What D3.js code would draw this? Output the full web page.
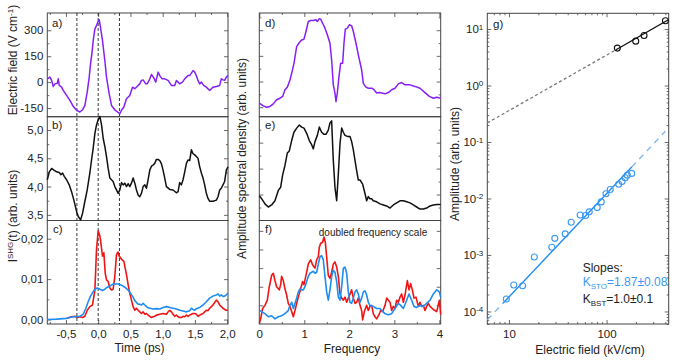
<!DOCTYPE html>
<html>
<head>
<meta charset="utf-8">
<script src="https://cdn.jsdelivr.net/npm/d3@7"></script>
<style>
  body { margin: 0; background: #fff; }
  svg text { font-family: "Liberation Sans", Arial, sans-serif; fill: #222; }
</style>
</head>
<body>
<svg id="chart" width="675" height="363"></svg>
<script>
// ---- data: time domain (ps) ----
const fieldTrace = [[-0.789,19],[-0.748,29],[-0.722,10],[-0.696,-25],[-0.671,-10],[-0.634,-6],[-0.619,19],[-0.604,-19],[-0.567,-29],[-0.542,-48],[-0.490,-77],[-0.438,-106],[-0.387,-140],[-0.335,-163],[-0.284,-173],[-0.242,-160],[-0.206,-135],[-0.170,-58],[-0.139,29],[-0.119,106],[-0.098,163],[-0.077,240],[-0.051,308],[-0.026,327],[0.000,352],[0.016,362],[0.036,317],[0.067,240],[0.103,125],[0.129,29],[0.170,-67],[0.207,-135],[0.258,-160],[0.336,-183],[0.361,-163],[0.398,-144],[0.439,-96],[0.490,-77],[0.532,-29],[0.568,-38],[0.619,-19],[0.645,-10],[0.671,10],[0.697,13],[0.738,-10],[0.759,-10],[0.790,10],[0.826,44],[0.862,25],[0.893,0],[0.929,58],[0.955,38],[0.991,19],[1.032,19],[1.084,10],[1.135,-19],[1.187,-19],[1.213,10],[1.239,0],[1.264,-10],[1.306,0],[1.342,19],[1.368,29],[1.393,38],[1.419,38],[1.445,52],[1.471,67],[1.497,58],[1.522,38],[1.548,10],[1.574,-10],[1.600,0],[1.636,-19],[1.677,-29],[1.729,-48],[1.755,-38],[1.780,-29],[1.832,-25],[1.884,-19],[1.909,19],[1.935,13],[1.961,10],[1.987,29],[2.013,38]];

const refTrace = [[-0.789,4.12],[-0.758,4.26],[-0.722,4.32],[-0.686,4.29],[-0.645,4.26],[-0.604,4.25],[-0.578,4.21],[-0.552,4.24],[-0.526,4.18],[-0.490,4.12],[-0.449,4.03],[-0.413,3.91],[-0.377,3.76],[-0.335,3.56],[-0.309,3.47],[-0.273,3.41],[-0.242,3.53],[-0.206,3.74],[-0.170,3.94],[-0.129,4.24],[-0.103,4.47],[-0.077,4.68],[-0.051,4.94],[-0.026,5.09],[0.000,5.18],[0.026,5.24],[0.052,5.09],[0.078,4.85],[0.103,4.71],[0.129,4.53],[0.155,4.32],[0.181,4.15],[0.207,4.12],[0.232,4.09],[0.258,4.0],[0.284,3.94],[0.310,3.88],[0.336,3.94],[0.361,4.07],[0.387,4.03],[0.413,4.06],[0.439,4.0],[0.465,4.05],[0.490,4.0],[0.516,4.06],[0.542,4.15],[0.568,4.06],[0.594,3.94],[0.619,3.85],[0.645,3.82],[0.671,3.88],[0.697,4.0],[0.723,4.03],[0.748,3.97],[0.774,4.12],[0.800,4.29],[0.826,4.36],[0.852,4.38],[0.877,4.41],[0.903,4.48],[0.929,4.48],[0.955,4.46],[0.981,4.40],[1.006,4.29],[1.032,4.15],[1.058,4.0],[1.110,3.95],[1.161,3.94],[1.213,3.89],[1.239,3.91],[1.264,4.07],[1.290,4.03],[1.316,4.12],[1.342,4.26],[1.368,4.41],[1.393,4.47],[1.419,4.46],[1.445,4.65],[1.471,4.58],[1.497,4.56],[1.522,4.53],[1.548,4.50],[1.574,4.35],[1.600,4.24],[1.626,4.15],[1.651,4.03],[1.677,3.88],[1.703,3.79],[1.729,3.74],[1.780,3.74],[1.832,3.76],[1.858,3.82],[1.884,3.94],[1.909,3.97],[1.935,4.03],[1.961,4.09],[1.987,4.29],[2.013,4.35]];

const shgRed = [[-0.490,0.0003],[-0.413,0.0007],[-0.361,0.0008],[-0.325,0.0005],[-0.284,0.0007],[-0.242,0.0005],[-0.206,0.0008],[-0.170,0.0023],[-0.129,0.0032],[-0.088,0.0036],[-0.051,0.0073],[-0.026,0.0173],[0.000,0.0219],[0.026,0.0207],[0.041,0.019],[0.067,0.0157],[0.088,0.0165],[0.109,0.0115],[0.129,0.0098],[0.155,0.0094],[0.181,0.0078],[0.207,0.0073],[0.232,0.0075],[0.258,0.0107],[0.284,0.0161],[0.310,0.0167],[0.325,0.0157],[0.346,0.0153],[0.367,0.0148],[0.398,0.0144],[0.418,0.0128],[0.439,0.0111],[0.465,0.0086],[0.490,0.0065],[0.516,0.0048],[0.542,0.0032],[0.568,0.0023],[0.594,0.0028],[0.619,0.0023],[0.645,0.0019],[0.671,0.0015],[0.697,0.0019],[0.723,0.0013],[0.748,0.0015],[0.774,0.0011],[0.800,0.0008],[0.826,0.0005],[0.852,0.0007],[0.877,0.0008],[0.903,0.0011],[0.955,0.0013],[1.006,0.0015],[1.058,0.0013],[1.084,0.0019],[1.110,0.0023],[1.135,0.0019],[1.161,0.0013],[1.187,0.0008],[1.213,0.0011],[1.239,0.0007],[1.264,0.0005],[1.290,0.0005],[1.316,0.0008],[1.342,0.0007],[1.368,0.0011],[1.393,0.0008],[1.419,0.0011],[1.445,0.0013],[1.471,0.0015],[1.497,0.0015],[1.522,0.0013],[1.548,0.0008],[1.574,0.0011],[1.600,0.0013],[1.626,0.0015],[1.651,0.0019],[1.677,0.0023],[1.703,0.0022],[1.729,0.0028],[1.755,0.0032],[1.780,0.0036],[1.806,0.0042],[1.832,0.0048],[1.858,0.0044],[1.884,0.0036],[1.909,0.0032],[1.935,0.0028],[1.961,0.0025],[1.987,0.0023],[2.013,0.0023]];

const shgBlue = [[-0.789,0.0],[-0.645,0.0001],[-0.490,0.0003],[-0.438,0.0005],[-0.387,0.0007],[-0.335,0.0007],[-0.284,0.0008],[-0.232,0.0013],[-0.191,0.0028],[-0.155,0.0044],[-0.119,0.0058],[-0.077,0.0069],[-0.051,0.0075],[-0.015,0.0078],[0.026,0.0075],[0.067,0.0072],[0.103,0.0075],[0.140,0.008],[0.181,0.0083],[0.222,0.0087],[0.258,0.0088],[0.310,0.0088],[0.361,0.0085],[0.413,0.008],[0.465,0.0073],[0.501,0.0065],[0.542,0.0055],[0.568,0.0047],[0.594,0.0042],[0.619,0.0038],[0.645,0.0038],[0.671,0.0036],[0.697,0.004],[0.723,0.0036],[0.748,0.0032],[0.774,0.0029],[0.800,0.0028],[0.852,0.0026],[0.903,0.0027],[0.955,0.0026],[1.006,0.003],[1.058,0.0032],[1.110,0.003],[1.161,0.0028],[1.213,0.0026],[1.264,0.0023],[1.316,0.0021],[1.368,0.0019],[1.419,0.0022],[1.445,0.0028],[1.471,0.0025],[1.497,0.0023],[1.522,0.0027],[1.574,0.003],[1.626,0.0036],[1.677,0.0044],[1.729,0.0053],[1.780,0.0058],[1.832,0.0061],[1.858,0.0063],[1.884,0.0058],[1.909,0.0061],[1.935,0.0057],[1.961,0.0058],[1.987,0.0061],[2.013,0.0065]];

const markerTimes = [-0.33, 0, 0.33];

// ---- data: spectra (frequency, arb. units) ----
const fieldSpectrum = [[0,0.16],[0.089,0.05],[0.163,0.0],[0.237,0.03],[0.311,0.13],[0.385,0.29],[0.459,0.35],[0.519,0.42],[0.570,0.68],[0.622,0.78],[0.681,1.06],[0.719,1.32],[0.770,1.71],[0.830,2.36],[0.889,2.52],[0.941,2.62],[0.993,2.65],[1.037,2.95],[1.089,3.34],[1.141,3.38],[1.2,3.38],[1.259,3.41],[1.289,3.34],[1.333,3.45],[1.363,3.43],[1.407,3.27],[1.459,3.08],[1.511,2.82],[1.570,2.49],[1.607,1.84],[1.644,0.87],[1.681,0.55],[1.704,0.22],[1.733,0.55],[1.770,1.19],[1.807,1.71],[1.852,1.71],[1.881,2.49],[1.911,3.04],[1.956,3.08],[2.0,3.21],[2.052,3.17],[2.089,2.95],[2.148,2.49],[2.2,2.04],[2.274,1.45],[2.311,0.93],[2.370,0.78],[2.422,0.74],[2.496,0.74],[2.548,0.68],[2.607,0.55],[2.667,0.57],[2.719,0.55],[2.793,0.52],[2.867,0.57],[2.941,0.68],[3.015,0.74],[3.089,0.91],[3.163,0.96],[3.237,0.87],[3.348,0.87],[3.459,0.81],[3.570,0.74],[3.681,0.57],[3.778,0.42],[3.867,0.35],[3.941,0.39],[4.03,0.35]];

const refSpectrum = [[0,0.24],[0.052,0.21],[0.126,0.16],[0.2,0.13],[0.274,0.15],[0.348,0.19],[0.422,0.29],[0.474,0.32],[0.519,0.44],[0.570,0.53],[0.622,0.65],[0.667,0.67],[0.719,0.77],[0.770,0.85],[0.830,0.89],[0.889,0.92],[0.941,0.90],[0.993,0.89],[1.052,0.84],[1.111,0.77],[1.163,0.73],[1.2,0.69],[1.237,0.76],[1.289,0.82],[1.333,0.90],[1.385,0.85],[1.437,0.83],[1.481,0.83],[1.533,0.87],[1.570,0.94],[1.607,0.96],[1.644,0.58],[1.681,0.32],[1.719,0.19],[1.756,0.45],[1.793,0.74],[1.830,0.89],[1.867,0.85],[1.904,0.82],[1.956,0.81],[2.015,0.81],[2.052,0.76],[2.089,0.68],[2.126,0.58],[2.163,0.48],[2.2,0.39],[2.237,0.39],[2.296,0.35],[2.348,0.26],[2.385,0.19],[2.422,0.23],[2.459,0.21],[2.496,0.21],[2.533,0.19],[2.607,0.18],[2.681,0.16],[2.756,0.15],[2.830,0.14],[2.904,0.12],[2.978,0.15],[3.052,0.17],[3.126,0.19],[3.2,0.19],[3.274,0.18],[3.348,0.17],[3.422,0.15],[3.496,0.13],[3.570,0.11],[3.644,0.11],[3.719,0.12],[3.793,0.14],[3.867,0.15],[3.941,0.155],[4.03,0.155]];

const shgSpecRed = [[0,0.01],[0.030,0.05],[0.074,0.15],[0.126,0.18],[0.178,0.23],[0.222,0.36],[0.274,0.47],[0.311,0.49],[0.348,0.42],[0.385,0.36],[0.444,0.33],[0.474,0.38],[0.496,0.46],[0.533,0.42],[0.570,0.34],[0.607,0.28],[0.644,0.20],[0.681,0.17],[0.719,0.12],[0.756,0.07],[0.793,0.13],[0.830,0.20],[0.867,0.26],[0.919,0.34],[0.963,0.41],[0.993,0.38],[1.037,0.47],[1.089,0.58],[1.141,0.62],[1.185,0.57],[1.237,0.54],[1.274,0.62],[1.311,0.65],[1.333,0.74],[1.363,0.78],[1.407,0.79],[1.437,0.84],[1.467,0.79],[1.496,0.65],[1.533,0.47],[1.570,0.44],[1.607,0.50],[1.644,0.58],[1.681,0.60],[1.719,0.55],[1.756,0.46],[1.793,0.29],[1.830,0.25],[1.867,0.23],[1.904,0.26],[1.941,0.21],[1.978,0.25],[2.015,0.29],[2.052,0.33],[2.089,0.25],[2.126,0.20],[2.163,0.21],[2.2,0.25],[2.237,0.18],[2.274,0.13],[2.296,0.04],[2.333,0.12],[2.385,0.18],[2.422,0.13],[2.459,0.17],[2.496,0.18],[2.533,0.10],[2.570,0.07],[2.607,0.05],[2.659,0.09],[2.696,0.13],[2.741,0.12],[2.793,0.18],[2.830,0.25],[2.867,0.23],[2.904,0.21],[2.941,0.13],[2.978,0.17],[3.015,0.15],[3.052,0.23],[3.089,0.21],[3.126,0.26],[3.163,0.29],[3.2,0.21],[3.237,0.28],[3.289,0.42],[3.326,0.33],[3.363,0.39],[3.4,0.33],[3.437,0.25],[3.481,0.26],[3.533,0.17],[3.570,0.21],[3.607,0.17],[3.644,0.18],[3.681,0.13],[3.719,0.17],[3.756,0.20],[3.793,0.17],[3.867,0.14],[3.941,0.12],[4.0,0.23],[4.03,0.09]];

const shgSpecBlue = [[0,0.13],[0.052,0.12],[0.126,0.10],[0.2,0.07],[0.274,0.08],[0.348,0.05],[0.422,0.07],[0.496,0.08],[0.570,0.10],[0.644,0.13],[0.681,0.18],[0.719,0.21],[0.756,0.15],[0.793,0.20],[0.830,0.25],[0.867,0.31],[0.904,0.34],[0.941,0.33],[0.978,0.33],[1.015,0.36],[1.052,0.41],[1.089,0.46],[1.126,0.49],[1.163,0.50],[1.2,0.51],[1.237,0.49],[1.274,0.50],[1.311,0.58],[1.348,0.65],[1.385,0.66],[1.422,0.62],[1.459,0.46],[1.496,0.31],[1.533,0.23],[1.570,0.33],[1.607,0.46],[1.644,0.52],[1.681,0.50],[1.719,0.41],[1.756,0.26],[1.793,0.23],[1.830,0.36],[1.867,0.54],[1.904,0.55],[1.941,0.49],[1.978,0.31],[2.015,0.21],[2.052,0.20],[2.089,0.25],[2.126,0.31],[2.163,0.33],[2.2,0.29],[2.237,0.21],[2.274,0.25],[2.311,0.31],[2.348,0.32],[2.385,0.28],[2.422,0.21],[2.459,0.18],[2.496,0.17],[2.533,0.17],[2.607,0.15],[2.681,0.15],[2.719,0.13],[2.793,0.10],[2.867,0.09],[2.941,0.10],[3.015,0.15],[3.089,0.20],[3.141,0.18],[3.2,0.15],[3.274,0.23],[3.326,0.29],[3.385,0.23],[3.437,0.17],[3.496,0.16],[3.570,0.18],[3.644,0.17],[3.719,0.20],[3.793,0.23],[3.867,0.29],[3.941,0.33],[4.0,0.31],[4.03,0.26]];

// ---- data: amplitude vs field ----
const bstField = [129, 199, 242, 401];
const bstAmp = [4.6, 6.1, 7.7, 14];
const stoField = [9.4, 11.2, 13.8, 18.2, 27.5, 29.5, 37.7, 43.4, 53.7, 61, 66.4, 80.2, 88.2, 98.6, 109, 133, 144, 155, 163, 181];
const stoAmp = [1.66e-4, 2.94e-4, 2.86e-4, 9.2e-4, 1.37e-3, 1.97e-3, 2.36e-3, 3.8e-3, 5.1e-3, 5.0e-3, 5.8e-3, 6.9e-3, 8.7e-3, 1.21e-2, 1.44e-2, 1.79e-2, 2.0e-2, 2.33e-2, 2.59e-2, 2.78e-2];
const bstFit = [[125, 4.3], [430, 14.6]];
const bstFitExt = [[6, 0.218], [125, 4.3]];
const stoFit = [[8.7, 1.4e-4], [181, 0.036]];
const stoFitExt = [[[6, 7.1e-5], [8.7, 1.4e-4]], [[181, 0.036], [400, 0.155]]];

// ---- ticks ----
const timeTicks = [-0.5, 0, 0.5, 1, 1.5, 2], timeMinor = [-0.75, -0.25, 0.25, 0.75, 1.25, 1.75];
const freqTicks = [0, 1, 2, 3, 4], freqMinor = [0.5, 1.5, 2.5, 3.5];
const fieldTicks = [-150, 0, 150, 300], fieldMinor = [-75, 75, 225];
const refTicks = [3.5, 4.0, 4.5, 5.0], refMinor = [3.75, 4.25, 4.75];
const shgTicks = [0, 0.01, 0.02], shgMinor = [0.005, 0.015];
const dTicks = [0, 1, 2, 3], dMinor = [0.5, 1.5, 2.5, 3.5];
const eTicks = [0.25, 0.5, 0.75], eMinor = [0.125, 0.375, 0.625, 0.875];
const fTicks = [0.18, 0.36, 0.54, 0.72, 0.9];
const logXTicks = [10, 100];
const logYTicks = [1e-4, 1e-3, 1e-2, 1e-1, 1, 10];

// ---- layout ----
const svg = d3.select("#chart");
const FONT = "'Liberation Sans', Arial, sans-serif";
const FRAME = "#444";
const colL = [47.3, 228], colM = [259.3, 440.7], colR = [487.3, 668.7];
const rowY = [13, 116.7, 220.5, 324];

const locale = d3.formatLocale({decimal: ",", thousands: ".", grouping: [3], currency: ["", ""], minus: "-"});
const fmtInt = locale.format("d"), fmt1 = locale.format(".1f"), fmt2 = locale.format(".2f");

// scales
const xTime = d3.scaleLinear([-0.789, 2.013], colL);
const yField = d3.scaleLinear([-200, 400], [rowY[1], rowY[0]]);
const yRef = d3.scaleLinear([3.4, 5.235], [rowY[2], rowY[1]]);
const yShg = d3.scaleLinear([-0.0011, 0.0245], [rowY[3], rowY[2]]);
const xFreq = d3.scaleLinear([0, 4.03], colM);
const yD = d3.scaleLinear([-0.37, 3.67], [rowY[1], rowY[0]]);
const yE = d3.scaleLinear([0, 1], [rowY[2], rowY[1]]);
const yF = d3.scaleLinear([0, 1], [rowY[3], rowY[2]]);
const xLog = d3.scaleLog([6, 433], colR);
const yLog = d3.scaleLog([6e-5, 19], [324, 13.3]);

// draws inward ticks with d3 axes (labels only when fmt is given)
function addAxis(kind, scale, at, major, minor, fmt, pad) {
  const make = {left: d3.axisLeft, right: d3.axisRight, top: d3.axisTop, bottom: d3.axisBottom}[kind];
  const vertical = kind === "left" || kind === "right";
  const g = svg.append("g").attr("transform", vertical ? `translate(${at},0)` : `translate(0,${at})`);
  g.call(make(scale).tickValues(major).tickSizeInner(-4).tickSizeOuter(0)
    .tickPadding(pad || 4).tickFormat(fmt || (() => "")));
  if (minor) {
    g.append("g").call(make(scale).tickValues(minor).tickSizeInner(-2).tickSizeOuter(0).tickFormat(() => ""));
  }
  g.selectAll(".domain").remove();
  g.selectAll("line").attr("stroke", FRAME).attr("stroke-width", 0.8);
  g.attr("font-family", FONT).attr("font-size", 11.5);
  g.selectAll("text").attr("fill", "#222");
  return g;
}

function frame(x0, x1, y0, y1) {
  svg.append("rect").attr("x", x0).attr("y", y0).attr("width", x1 - x0).attr("height", y1 - y0)
    .attr("fill", "none").attr("stroke", FRAME).attr("stroke-width", 1);
}

function trace(data, xs, ys, color, width) {
  svg.append("path").datum(data)
    .attr("d", d3.line().x(d => xs(d[0])).y(d => ys(d[1])))
    .attr("fill", "none").attr("stroke", color).attr("stroke-width", width || 1.5)
    .attr("stroke-linejoin", "round");
}

function label(x, y, txt, size, anchor) {
  return svg.append("text").attr("x", x).attr("y", y).attr("font-size", size || 11.5)
    .attr("text-anchor", anchor || "start").text(txt);
}

// ---- left column: time traces ----
addAxis("left", yField, colL[0], fieldTicks, fieldMinor, fmtInt);
addAxis("right", yField, colL[1], fieldTicks, fieldMinor);
addAxis("top", xTime, rowY[0], timeTicks, timeMinor);
addAxis("left", yRef, colL[0], refTicks, refMinor, fmt1);
addAxis("right", yRef, colL[1], refTicks, refMinor);
addAxis("left", yShg, colL[0], shgTicks, shgMinor, fmt2);
addAxis("right", yShg, colL[1], shgTicks, shgMinor);
addAxis("bottom", xTime, rowY[3], timeTicks, timeMinor, fmt1, 6);

// middle column
addAxis("left", yD, colM[0], dTicks, dMinor);
addAxis("right", yD, colM[1], dTicks, dMinor);
addAxis("top", xFreq, rowY[0], freqTicks, freqMinor);
addAxis("left", yE, colM[0], eTicks, eMinor);
addAxis("right", yE, colM[1], eTicks, eMinor);
addAxis("left", yF, colM[0], fTicks);
addAxis("right", yF, colM[1], fTicks);
addAxis("bottom", xFreq, rowY[3], freqTicks, freqMinor, d => d3.format("d")(d), 6);

// right panel, log-log
const logMinorX = [7, 8, 9, 20, 30, 40, 50, 60, 70, 80, 90, 200, 300, 400];
const logMinorY = [];
[1e-5, 1e-4, 1e-3, 1e-2, 1e-1, 1].forEach(dec => {
  [2, 3, 4, 5, 6, 7, 8, 9].forEach(m => {
    const v = dec * m;
    if (v > 6e-5 && v < 19) logMinorY.push(v);
  });
});
const powLabel = d => "10|" + Math.round(Math.log10(d));
const gyLeft = addAxis("left", yLog, colR[0], logYTicks, logMinorY, powLabel);
addAxis("right", yLog, colR[1], logYTicks, logMinorY);
addAxis("top", xLog, 13.3, logXTicks, logMinorX);
addAxis("bottom", xLog, 324, logXTicks, logMinorX, d => d3.format("d")(d), 6);
// turn "10|n" into 10 with superscript
gyLeft.selectAll(".tick text").each(function() {
  const t = d3.select(this);
  const parts = t.text().split("|");
  t.text("");
  t.append("tspan").text(parts[0]);
  t.append("tspan").attr("dy", "-0.45em").attr("font-size", 8).text(parts[1]);
});

// frames
[0, 1, 2].forEach(i => {
  frame(colL[0], colL[1], rowY[i], rowY[i + 1]);
  frame(colM[0], colM[1], rowY[i], rowY[i + 1]);
});
frame(colR[0], colR[1], 13.3, 324);

// dashed markers across the time panels
svg.append("g").selectAll("line").data(markerTimes).join("line")
  .attr("x1", d => xTime(d)).attr("x2", d => xTime(d))
  .attr("y1", rowY[0]).attr("y2", rowY[3])
  .attr("stroke", "#222").attr("stroke-width", 0.9).attr("stroke-dasharray", "3,2");

// curves
const PURPLE = "#8420f5", RED = "#f01414", BLUE = "#1e8cf0";
trace(fieldTrace, xTime, yField, PURPLE);
trace(refTrace, xTime, yRef, "#111");
trace(shgRed, xTime, yShg, RED, 1.6);
trace(shgBlue, xTime, yShg, BLUE, 1.6);
trace(fieldSpectrum, xFreq, yD, PURPLE);
trace(refSpectrum, xFreq, yE, "#111");
trace(shgSpecRed, xFreq, yF, RED, 1.6);
trace(shgSpecBlue, xFreq, yF, BLUE, 1.6);

// fits and points on log-log
const logLine = d3.line().x(d => xLog(d[0])).y(d => yLog(d[1]));
svg.append("path").attr("d", logLine(bstFitExt)).attr("fill", "none")
  .attr("stroke", "#777").attr("stroke-width", 1.3).attr("stroke-dasharray", "3,2.5");
svg.append("path").attr("d", logLine(bstFit)).attr("fill", "none")
  .attr("stroke", "#111").attr("stroke-width", 1.4);
stoFitExt.forEach(seg => {
  svg.append("path").attr("d", logLine(seg)).attr("fill", "none")
    .attr("stroke", "#7ab6f2").attr("stroke-width", 1.3).attr("stroke-dasharray", "6,5");
});
svg.append("path").attr("d", logLine(stoFit)).attr("fill", "none")
  .attr("stroke", BLUE).attr("stroke-width", 1.4);

svg.append("g").selectAll("circle").data(d3.range(stoField.length)).join("circle")
  .attr("cx", i => xLog(stoField[i])).attr("cy", i => yLog(stoAmp[i])).attr("r", 3)
  .attr("fill", "none").attr("stroke", "#3b98f2").attr("stroke-width", 1.1);
svg.append("g").selectAll("circle").data(d3.range(bstField.length)).join("circle")
  .attr("cx", i => xLog(bstField[i])).attr("cy", i => yLog(bstAmp[i])).attr("r", 3)
  .attr("fill", "none").attr("stroke", "#111").attr("stroke-width", 1.1);

// panel letters
[["a)", 52, 27], ["b)", 52, 129], ["c)", 53, 233], ["d)", 265, 27], ["e)", 265, 129], ["f)", 265, 233], ["g)", 493, 28]]
  .forEach(p => label(p[1], p[2], p[0], 11.5));

label(373, 235.5, "doubled frequency scale", 10, "middle");

// slopes annotation
label(582.7, 272, "Slopes:", 12);
const ks = label(582.7, 286, "", 12).attr("fill", "#3b98f2").style("fill", "#3b98f2");
ks.append("tspan").text("K");
ks.append("tspan").attr("dy", 3).attr("font-size", 8).text("STO");
ks.append("tspan").attr("dy", -3).text("=1.87±0.08");
const kb = label(582.7, 302.5, "", 12);
kb.append("tspan").text("K");
kb.append("tspan").attr("dy", 3).attr("font-size", 8).text("BST");
kb.append("tspan").attr("dy", -3).text("=1.0±0.1");

// axis titles
label(139.5, 352, "Time (ps)", 12, "middle");
label(352, 353, "Frequency", 12, "middle");
label(590, 354, "Electric field (kV/cm)", 12, "middle");

function vlabel(x, y, size) {
  return svg.append("text").attr("transform", `translate(${x},${y}) rotate(-90)`)
    .attr("text-anchor", "middle").attr("font-size", size || 12);
}
const ef = vlabel(16.5, 60);
ef.append("tspan").text("Electric field (V cm");
ef.append("tspan").attr("dy", -4).attr("font-size", 8).text("-1");
ef.append("tspan").attr("dy", 4).text(")");
const ishg = vlabel(16.5, 216);
ishg.append("tspan").text("I");
ishg.append("tspan").attr("dy", -4).attr("font-size", 8).text("SHG");
ishg.append("tspan").attr("dy", 4).text("(t) (arb. units)");
vlabel(246, 158.5).text("Amplitude spectral density (arb. units)");
vlabel(459, 164).text("Amplitude (arb. units)");
</script>
</body>
</html>
